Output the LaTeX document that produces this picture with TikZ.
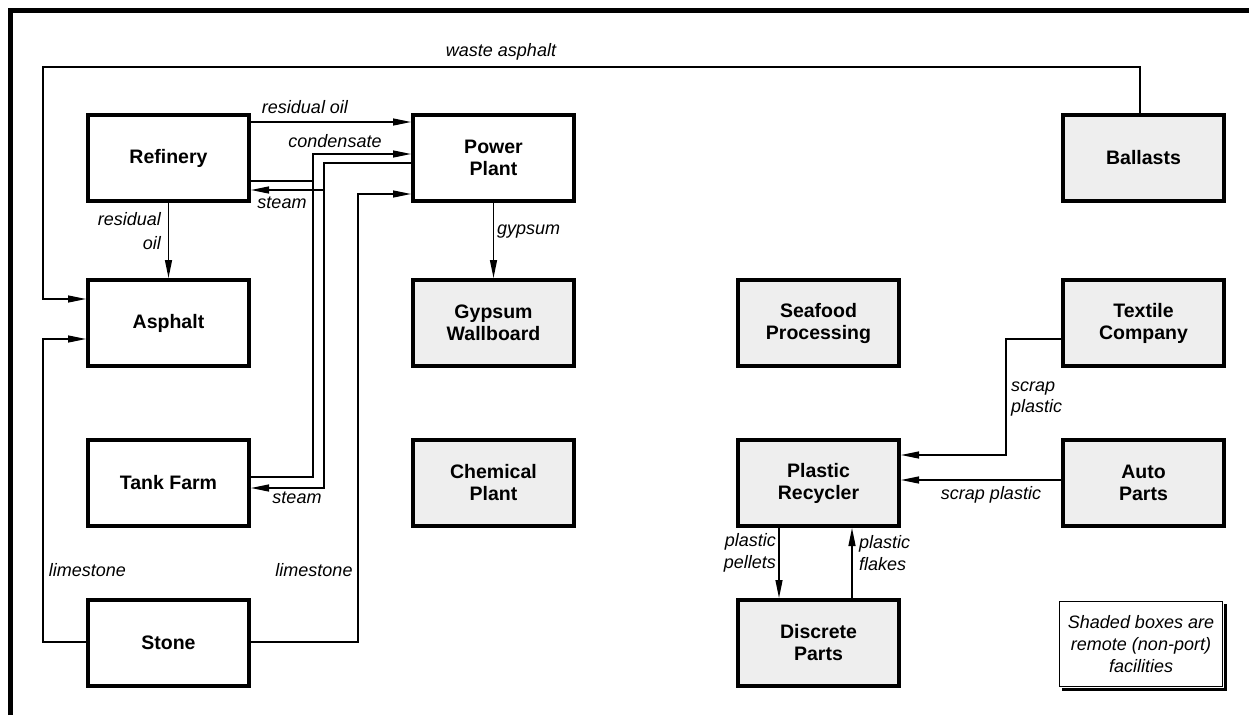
\documentclass[tikz,border=0pt]{standalone}
\usepackage{fontspec}
\setmainfont{Liberation Sans}
\usetikzlibrary{arrows.meta}
\definecolor{shade}{RGB}{238,238,238}
\tikzset{
  facility/.style={draw=black, line width=4pt, minimum width=161pt, minimum height=86pt,
    align=center, inner sep=0pt, font=\bfseries\fontsize{19.5}{22}\selectfont},
  remote/.style={facility, fill=shade},
  port/.style={facility, fill=white},
  flow/.style={line width=1.3pt, -{Triangle[length=18pt,width=7pt]}},
  plainflow/.style={line width=1.3pt},
  lbl/.style={inner sep=0pt, font=\itshape\fontsize{18}{21.6}\selectfont},
}
\begin{document}
\begin{tikzpicture}[x=1pt,y=-1pt]
\useasboundingbox (0,0) rectangle (1249,715);
% frame
\draw[line width=5pt] (10.5,715) -- (10.5,10) -- (1249,10);

% facilities
\node[port]   (refinery)   at (168.5,158) {Refinery};
\node[port]   (powerplant) at (493.5,158) {Power\\Plant};
\node[remote] (ballasts)   at (1143.5,158) {Ballasts};
\node[port]   (asphalt)    at (168.5,323) {Asphalt};
\node[remote] (gypsum)     at (493.5,323) {Gypsum\\Wallboard};
\node[remote] (seafood)    at (818.5,323) {Seafood\\Processing};
\node[remote] (textile)    at (1143.5,323) {Textile\\Company};
\node[port]   (tankfarm)   at (168.5,483) {Tank Farm};
\node[remote] (chemical)   at (493.5,483) {Chemical\\Plant};
\node[remote] (recycler)   at (818.5,483) {Plastic\\Recycler};
\node[remote] (auto)       at (1143.5,483) {Auto\\Parts};
\node[port]   (stone)      at (168.5,643) {Stone};
\node[remote] (discrete)   at (818.5,643) {Discrete\\Parts};

% routing points
\coordinate (wa) at (1140,67);
\coordinate (wb) at (43,299);
\coordinate (ro) at (0,122);
\coordinate (cA) at (313,154);
\coordinate (cB) at (0,181);
\coordinate (cC) at (0,477);
\coordinate (sA) at (324,163);
\coordinate (sB) at (0,190);
\coordinate (sC) at (0,488);
\coordinate (lA) at (358,194);
\coordinate (lB) at (0,642);
\coordinate (lC) at (43,339);
\coordinate (tA) at (1006,339);
\coordinate (tB) at (0,455);
\coordinate (aA) at (0,480);
\coordinate (pA) at (779,0);
\coordinate (pB) at (852,0);

% connectors
\draw[flow] (ballasts.north -| wa) -- (wa) -| (wb) -- (asphalt.west |- wb);
\draw[flow] (refinery.east |- ro) -- (powerplant.west |- ro);
\draw[flow] (tankfarm.east |- cC) -| (cA) -- (powerplant.west |- cA);
\draw[plainflow] (refinery.east |- cB) -- (cA |- cB);
\draw[flow] (powerplant.west |- sA) -- (sA) |- (tankfarm.east |- sC);
\draw[flow] (sA |- sB) -- (refinery.east |- sB);
\draw[flow] (stone.east |- lB) -| (lA) -- (powerplant.west |- lA);
\draw[flow] (stone.west |- lB) -| (lC) -- (asphalt.west |- lC);
\draw[flow] (refinery.south) -- (asphalt.north);
\draw[flow] (powerplant.south) -- (gypsum.north);
\draw[flow] (textile.west |- tA) -- (tA) |- (recycler.east |- tB);
\draw[flow] (auto.west |- aA) -- (recycler.east |- aA);
\draw[flow] (recycler.south -| pA) -- (discrete.north -| pA);
\draw[flow] (discrete.north -| pB) -- (recycler.south -| pB);

% labels
\node[lbl] (lwaste) at (501,52) {waste asphalt};
\node[lbl] (lro1) at (305,107) {residual oil};
\node[lbl] (lcond) at (335,141) {condensate};
\node[lbl] (lsteam1) at (282,203) {steam};
\node[lbl] (lsteam2) at (297,498) {steam};
\node[lbl, anchor=east, align=right, font=\itshape\fontsize{18}{24}\selectfont] (lro2) at (161,231) {residual\\oil};
\node[lbl, anchor=west] (lgyp) at (497,232) {gypsum};
\node[lbl] (llime1) at (87.5,570) {limestone};
\node[lbl] (llime2) at (314,570) {limestone};
\node[lbl, anchor=west, align=left] (lscrap1) at (1011,399) {scrap\\plastic};
\node[lbl] (lscrap2) at (991,495) {scrap plastic};
\node[lbl, anchor=east, align=right] (lpel) at (776,553) {plastic\\pellets};
\node[lbl, anchor=west, align=left] (lflk) at (859,553) {plastic\\flakes};

% legend
\fill[black] (1062,604) rectangle (1227,691);
\fill[white] (1057.5,599.5) rectangle (1224.3,688.3);
\node[draw=black, line width=1.3pt, fill=white, minimum width=162.7pt, minimum height=84.7pt,
  inner sep=0pt, align=center, font=\itshape\fontsize{18}{22}\selectfont]
  (legend) at (1141,644) {Shaded boxes are\\remote (non-port)\\facilities};
\end{tikzpicture}
\end{document}
